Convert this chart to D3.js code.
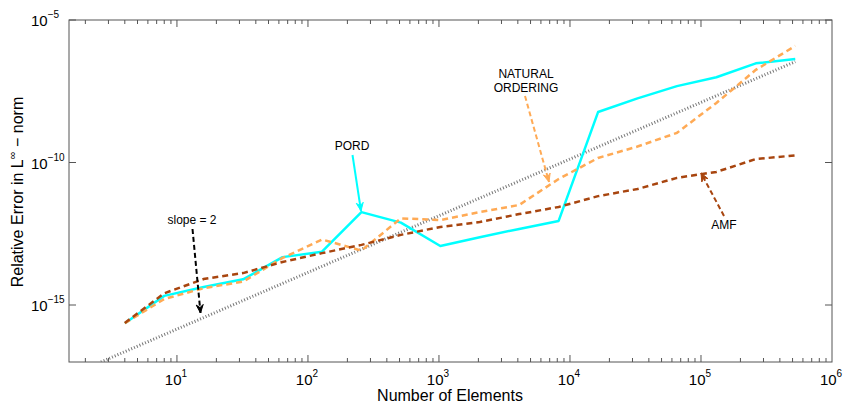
<!DOCTYPE html>
<html><head><meta charset="utf-8">
<script src="https://cdn.jsdelivr.net/npm/d3@7"></script>
<style>body{margin:0;background:#fff}text{font-family:"Liberation Sans",Arial,sans-serif;fill:#000}</style>
</head><body><svg id="c" width="845" height="407"></svg>
<script>
const elements = [4,8,16,32,64,128,256,512,1024,2048,4096,8192,16384,32768,65536,131072,262144,524288];
const pordExp    = [-15.64,-14.68,-14.37,-14.10,-13.32,-13.13,-11.74,-12.11,-12.93,-12.62,-12.33,-12.05,-8.23,-7.75,-7.32,-7.01,-6.52,-6.37];
const naturalExp = [-15.64,-14.79,-14.41,-14.18,-13.35,-12.70,-13.09,-11.96,-12.02,-11.74,-11.49,-10.58,-9.84,-9.44,-8.96,-7.91,-6.75,-5.91];
const amfExp     = [-15.63,-14.59,-14.09,-13.88,-13.49,-13.18,-12.89,-12.54,-12.26,-12.09,-11.81,-11.56,-11.18,-10.93,-10.54,-10.33,-9.88,-9.75];
const slopeX = [2.63, 524288];
const slopeExp = [-17.0, -6.46];
const xTickExp = [1,2,3,4,5,6];
const yTickExp = [-5,-10,-15];

const svg = d3.select("#c");
const L=69,R=832,T=20,B=362;
const x = d3.scaleLog().domain([1.5,1e6]).range([L,R]);
const y = d3.scaleLog().domain([1e-17,1e-5]).range([B,T]);

svg.append("clipPath").attr("id","clip").append("rect").attr("x",L).attr("y",T).attr("width",R-L).attr("height",B-T);

const axisCol="#555";
// frame
svg.append("rect").attr("x",L).attr("y",T).attr("width",R-L).attr("height",B-T).attr("fill","none").attr("stroke",axisCol).attr("stroke-width",1);

// x ticks (major and minor), inward, top and bottom
const minor=[];
for(let e=0;e<6;e++){for(let k=1;k<10;k++){const v=k*Math.pow(10,e); if(v>=1.5&&v<=1e6) minor.push(v);}}
const g=svg.append("g");
minor.forEach(v=>{
  const isMaj = Math.abs(Math.log10(v)-Math.round(Math.log10(v)))<1e-9;
  const len = isMaj?7:4;
  const px=x(v);
  g.append("line").attr("x1",px).attr("x2",px).attr("y1",B).attr("y2",B-len).attr("stroke",axisCol);
  g.append("line").attr("x1",px).attr("x2",px).attr("y1",T).attr("y2",T+len).attr("stroke",axisCol);
});
yTickExp.forEach(e=>{
  const py=y(Math.pow(10,e));
  g.append("line").attr("x1",L).attr("x2",L+7).attr("y1",py).attr("y2",py).attr("stroke",axisCol);
  g.append("line").attr("x1",R).attr("x2",R-7).attr("y1",py).attr("y2",py).attr("stroke",axisCol);
});
// tick labels
xTickExp.forEach(e=>{
  const t=svg.append("text").attr("x",x(Math.pow(10,e))-1).attr("y",385).attr("text-anchor","middle").style("font-size","15px");
  t.append("tspan").text("10");
  t.append("tspan").attr("dy",-8).style("font-size","10px").text(e);
});
yTickExp.forEach(e=>{
  const t=svg.append("text").attr("x",31).attr("y",y(Math.pow(10,e))+6).style("font-size","15px");
  t.append("tspan").text("10");
  t.append("tspan").attr("dy",-8).style("font-size","10px").text("\u2212"+(-e));
});
// axis labels
svg.append("text").attr("x",450).attr("y",401).attr("text-anchor","middle").style("font-size","16px").text("Number of Elements");
const yl=svg.append("text").attr("transform","translate(23,192) rotate(-90)").attr("text-anchor","middle").style("font-size","16px");
yl.append("tspan").text("Relative Error in L");
yl.append("tspan").attr("dy",-7).style("font-size","11px").text("\u221E");
yl.append("tspan").attr("dy",7).text(" \u2212 norm");

// lines
const line=d3.line().x(d=>x(d[0])).y(d=>y(Math.pow(10,d[1])));
const plot=svg.append("g").attr("clip-path","url(#clip)");
plot.append("path").datum(slopeX.map((v,i)=>[v,slopeExp[i]])).attr("d",line)
  .attr("fill","none").attr("stroke","#777").attr("stroke-width",3).attr("stroke-dasharray","1,2");
plot.append("path").datum(elements.map((v,i)=>[v,pordExp[i]])).attr("d",line)
  .attr("fill","none").attr("stroke","#00ffff").attr("stroke-width",2.5).attr("stroke-linejoin","round");
plot.append("path").datum(elements.map((v,i)=>[v,naturalExp[i]])).attr("d",line)
  .attr("fill","none").attr("stroke","#ffaa55").attr("stroke-width",2.5).attr("stroke-dasharray","6,4");
plot.append("path").datum(elements.map((v,i)=>[v,amfExp[i]])).attr("d",line)
  .attr("fill","none").attr("stroke","#a8450f").attr("stroke-width",2.5).attr("stroke-dasharray","6,4");

// annotations
function arrow(x1,y1,x2,y2,col,dash){
  svg.append("line").attr("x1",x1).attr("y1",y1).attr("x2",x2).attr("y2",y2)
    .attr("stroke",col).attr("stroke-width",2).attr("stroke-dasharray",dash||null);
  const a=Math.atan2(y2-y1,x2-x1), s=9, w=0.4;
  const p=[[x2,y2],[x2-s*Math.cos(a-w),y2-s*Math.sin(a-w)],[x2-s*0.6*Math.cos(a),y2-s*0.6*Math.sin(a)],[x2-s*Math.cos(a+w),y2-s*Math.sin(a+w)]];
  svg.append("path").attr("d","M"+p.map(q=>q.join(",")).join("L")+"Z").attr("fill",col).attr("stroke",col).attr("stroke-width",1);
}
svg.append("text").attr("x",192).attr("y",224).attr("text-anchor","middle").style("font-size","12px").text("slope = 2");
arrow(192.5,229,200.5,313,"#000","5,3");
svg.append("text").attr("x",352).attr("y",150).attr("text-anchor","middle").style("font-size","12px").text("PORD");
arrow(352.5,155,361,211,"#00ffff");
svg.append("text").attr("x",526).attr("y",78).attr("text-anchor","middle").style("font-size","12px").text("NATURAL");
svg.append("text").attr("x",526).attr("y",92).attr("text-anchor","middle").style("font-size","12px").text("ORDERING");
arrow(525,96,549,182,"#ffaa55","5,3");
svg.append("text").attr("x",724).attr("y",229).attr("text-anchor","middle").style("font-size","12px").text("AMF");
arrow(724,216,701,173,"#a8450f","5,3");
</script></body></html>
